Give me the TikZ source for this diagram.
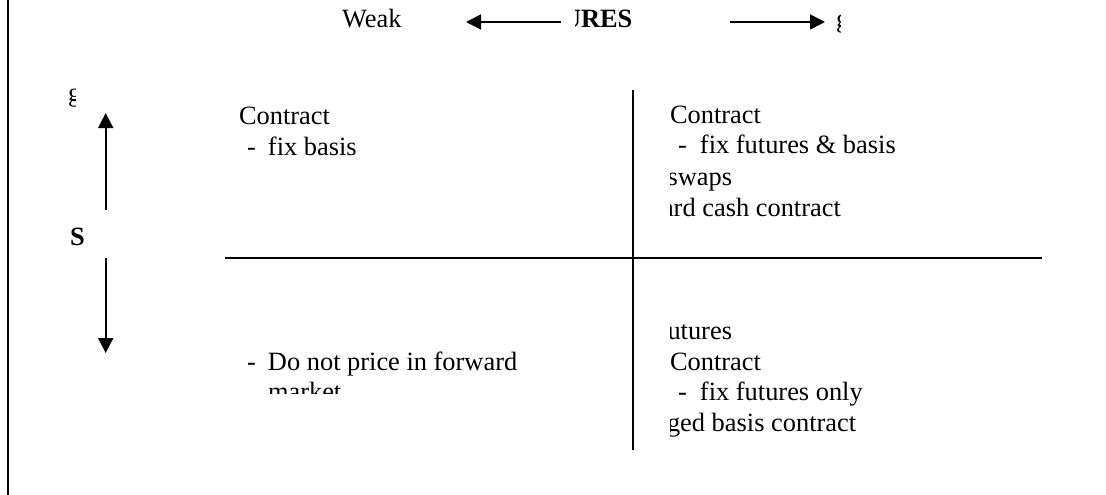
\documentclass[tikz,border=0pt]{standalone}
\usepackage{fontspec}
\setmainfont{Liberation Serif}
\usetikzlibrary{arrows.meta}
\begin{document}
\begin{tikzpicture}[x=1pt,y=-1pt,
  txt/.style={anchor=base west,inner sep=0pt,outer sep=0pt,font=\fontsize{26.4}{30}\selectfont},
  btxt/.style={txt,font=\fontsize{26.4}{30}\selectfont\bfseries},
  rule/.style={line width=1.6pt},
  arr/.style={line width=1.6pt,-{Triangle[length=15pt,width=15pt]}}]
\useasboundingbox (0,0) rectangle (1106,495);
% left border
\coordinate (b1) at (8,0);
\coordinate (b2) at (8,495);
\draw[line width=1.4pt] (b1) -- (b2);
% top axis
\node[txt] (weak) at (342,28) {Weak};
\begin{scope}
\clip (575,0) rectangle (700,60);
\node[btxt] (ures) at (562,28) {URES};
\end{scope}
\begin{scope}
\clip (800,0) rectangle (840,60);
\node[txt] (gtop) at (836,28) {g};
\end{scope}
\coordinate (la1) at (561,22);
\coordinate (la2) at (466,22);
\coordinate (ra1) at (730,22);
\coordinate (ra2) at (825,22);
\draw[arr] (la1) -- (la2);
\draw[arr] (ra1) -- (ra2);
% left axis
\begin{scope}
\clip (60,80) rectangle (75,115);
\node[txt] (gleft) at (68,102) {g};
\end{scope}
\node[btxt] (sleft) at (70,245) {S};
\coordinate (ua1) at (105.7,210);
\coordinate (ua2) at (105.7,113);
\coordinate (da1) at (105.7,258);
\coordinate (da2) at (105.7,353);
\draw[arr] (ua1) -- (ua2);
\draw[arr] (da1) -- (da2);
% quadrant lines
\coordinate (h1) at (225,258);
\coordinate (h2) at (1042,258);
\coordinate (v1) at (633,90);
\coordinate (v2) at (633,450);
\draw[rule] (h1) -- (h2);
\draw[rule] (v1) -- (v2);
% top-left quadrant
\node[txt] (tl1) at (239,124) {Contract};
\node[txt] (tl2) at (247,155) {\makebox[21pt][l]{-}fix basis};
% bottom-left quadrant
\node[txt] (bl1) at (247,370) {\makebox[21pt][l]{-}Do not price in forward};
\begin{scope}
\clip (240,380) rectangle (500,393);
\node[txt] (bl2) at (268,400) {market};
\end{scope}
% right quadrants (clipped text box)
\begin{scope}
\clip (670.5,90) rectangle (1100,460);
\node[txt] (tr1) at (670,123) {Contract};
\node[txt] (tr2) at (678,153) {\makebox[22pt][l]{-}fix futures \& basis};
\node[txt] (tr3) at (667.5,185) {swaps};
\node[txt] (tr4) at (662,216) {ard cash contract};
\node[txt] (br1) at (667.5,339) {utures};
\node[txt] (br2) at (670,370) {Contract};
\node[txt] (br3) at (678,400) {\makebox[22pt][l]{-}fix futures only};
\node[txt] (br4) at (667,431) {ged basis contract};
\end{scope}
\end{tikzpicture}
\end{document}
